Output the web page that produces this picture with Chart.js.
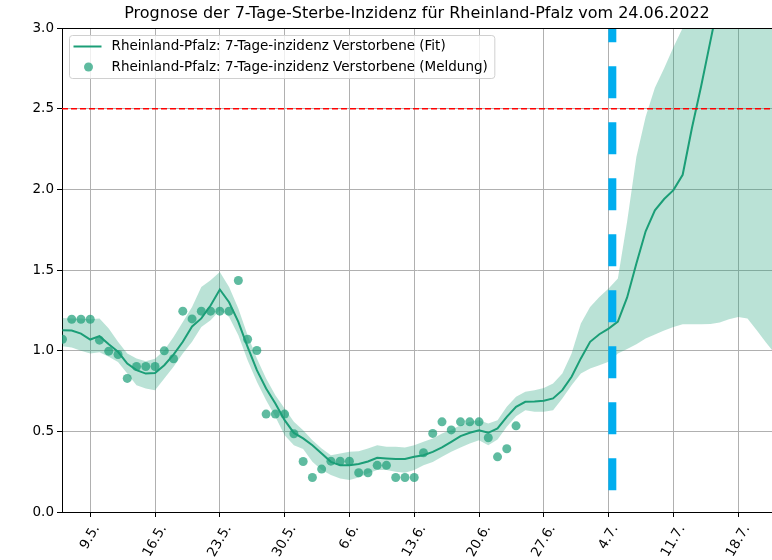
<!DOCTYPE html>
<html><head><meta charset="utf-8">
<script src="https://cdn.jsdelivr.net/npm/chart.js@4/dist/chart.umd.min.js"></script>
<style>html,body{margin:0;padding:0;background:#fff;overflow:hidden;}canvas{display:block;}</style>
</head><body>
<canvas id="c" width="772" height="560"></canvas>
<script>
const titleText = 'Prognose der 7-Tage-Sterbe-Inzidenz für Rheinland-Pfalz vom 24.06.2022';
const fitLabel = 'Rheinland-Pfalz: 7-Tage-inzidenz Verstorbene (Fit)';
const meldungLabel = 'Rheinland-Pfalz: 7-Tage-inzidenz Verstorbene (Meldung)';

// x = days since 6.5.2022
const tickDays = [3, 10, 17, 24, 31, 38, 45, 52, 59, 66, 73];
const tickLabels = ['9.5.', '16.5.', '23.5.', '30.5.', '6.6.', '13.6.', '20.6.', '27.6.', '4.7.', '11.7.', '18.7.'];

// reported 7-day death incidence, daily from 6.5. to 24.6.
const meldung = [
  1.071, 1.195, 1.195, 1.195, 1.065, 0.997, 0.976, 0.828, 0.902, 0.902,
  0.902, 0.999, 0.950, 1.245, 1.197, 1.245, 1.245, 1.245, 1.245, 1.435,
  1.071, 1.001, 0.607, 0.607, 0.607, 0.485, 0.313, 0.214, 0.266, 0.315,
  0.315, 0.315, 0.243, 0.243, 0.289, 0.289, 0.214, 0.214, 0.214, 0.367,
  0.487, 0.559, 0.509, 0.559, 0.559, 0.559, 0.460, 0.342, 0.392, 0.534
];

// fit, daily from 6.5.
const fit = [
  1.127, 1.125, 1.106, 1.069, 1.090, 1.040, 0.993, 0.920, 0.879, 0.858,
  0.862, 0.910, 0.975, 1.055, 1.150, 1.200, 1.280, 1.379, 1.300, 1.178,
  1.024, 0.879, 0.766, 0.673, 0.569, 0.490, 0.456, 0.414, 0.363, 0.311,
  0.290, 0.290, 0.297, 0.313, 0.336, 0.332, 0.328, 0.328, 0.342, 0.352,
  0.373, 0.400, 0.435, 0.470, 0.491, 0.507, 0.491, 0.518, 0.590, 0.652,
  0.683, 0.685, 0.689, 0.704, 0.755, 0.838, 0.952, 1.055, 1.102, 1.137,
  1.180, 1.330, 1.540, 1.740, 1.870, 1.940, 1.995, 2.090, 2.380, 2.640,
  2.920, 3.200, 3.450, 3.700, 3.950, 4.200, 4.450, 4.700
];
const fitUpper = [
  1.203, 1.200, 1.200, 1.195, 1.200, 1.138, 1.055, 0.983, 0.952, 0.935,
  0.950, 1.003, 1.085, 1.178, 1.271, 1.395, 1.437, 1.488, 1.395, 1.261,
  1.096, 0.952, 0.828, 0.724, 0.642, 0.559, 0.507, 0.445, 0.394, 0.352,
  0.363, 0.373, 0.377, 0.394, 0.414, 0.404, 0.404, 0.400, 0.414, 0.435,
  0.455, 0.487, 0.510, 0.538, 0.559, 0.569, 0.549, 0.569, 0.652, 0.714,
  0.745, 0.755, 0.768, 0.797, 0.859, 0.983, 1.168, 1.271, 1.333, 1.385,
  1.447, 1.800, 2.200, 2.450, 2.630, 2.750, 2.880, 3.000, 3.150, 3.300,
  3.450, 3.600, 3.750, 3.900, 4.050, 4.200, 4.350, 4.500
];
const fitLower = [
  1.028, 1.020, 1.000, 0.983, 0.990, 0.962, 0.930, 0.859, 0.786, 0.766,
  0.755, 0.828, 0.900, 0.983, 1.055, 1.147, 1.189, 1.251, 1.209, 1.096,
  0.941, 0.807, 0.693, 0.590, 0.476, 0.414, 0.390, 0.311, 0.260, 0.229,
  0.208, 0.198, 0.214, 0.239, 0.260, 0.260, 0.249, 0.243, 0.260, 0.290,
  0.310, 0.342, 0.373, 0.400, 0.425, 0.445, 0.414, 0.450, 0.528, 0.594,
  0.631, 0.621, 0.621, 0.631, 0.704, 0.786, 0.859, 0.890, 0.910, 0.931,
  0.983, 1.010, 1.040, 1.075, 1.100, 1.125, 1.147, 1.164, 1.164, 1.164,
  1.166, 1.175, 1.195, 1.209, 1.200, 1.127, 1.050, 0.980
];

const forecastDay = 59.4;
const forecastLine = [0.135, 3.0];
const threshold = 2.5;
const xRange = [-0.05, 76.65];
const yRange = [0, 3];

const GREEN = '#1b9e77';
const toXY = arr => arr.map((v, i) => ({x: i, y: v}));
const FONT = 'DejaVu Sans';
const TICK_SIZE = 13.5;

// matplotlib-like rotated x labels (centered under tick), top frame, legend inside axes
const decor = {
  id: 'decor',
  afterDraw(chart) {
    const ctx = chart.ctx, a = chart.chartArea, xs = chart.scales.x;
    ctx.save();
    // x tick labels, rotation 60°, bbox centered on tick
    ctx.font = TICK_SIZE + 'px "' + FONT + '"';
    ctx.fillStyle = '#000';
    ctx.textAlign = 'center'; ctx.textBaseline = 'middle';
    const ang = 60 * Math.PI / 180, h = TICK_SIZE * 1.17;
    tickDays.forEach((d, i) => {
      const w = ctx.measureText(tickLabels[i]).width;
      const H = w * Math.sin(ang) + h * Math.cos(ang);
      const px = xs.getPixelForValue(d);
      ctx.save();
      ctx.translate(px, a.bottom + 10 + H / 2);
      ctx.rotate(-ang);
      ctx.fillText(tickLabels[i], 0, 0);
      ctx.restore();
    });
    // top spine
    ctx.strokeStyle = '#000'; ctx.lineWidth = 1;
    ctx.beginPath(); ctx.moveTo(a.left, a.top + 0.5); ctx.lineTo(a.right, a.top + 0.5); ctx.stroke();
    // legend
    ctx.font = '13.5px "' + FONT + '"';
    const tw = Math.max(ctx.measureText(fitLabel).width, ctx.measureText(meldungLabel).width);
    const bx = a.left + 7.5, by = a.top + 7.5, bw = 42 + tw + 7, bh = 43;
    const r = 3;
    ctx.beginPath();
    ctx.moveTo(bx + r, by); ctx.lineTo(bx + bw - r, by); ctx.quadraticCurveTo(bx + bw, by, bx + bw, by + r);
    ctx.lineTo(bx + bw, by + bh - r); ctx.quadraticCurveTo(bx + bw, by + bh, bx + bw - r, by + bh);
    ctx.lineTo(bx + r, by + bh); ctx.quadraticCurveTo(bx, by + bh, bx, by + bh - r);
    ctx.lineTo(bx, by + r); ctx.quadraticCurveTo(bx, by, bx + r, by);
    ctx.closePath();
    ctx.fillStyle = 'rgba(255,255,255,0.8)'; ctx.fill();
    ctx.strokeStyle = '#d0d0d0'; ctx.stroke();
    const y1 = by + 11, y2 = by + 31.5;
    ctx.strokeStyle = GREEN; ctx.lineWidth = 2;
    ctx.beginPath(); ctx.moveTo(bx + 4, y1); ctx.lineTo(bx + 32, y1); ctx.stroke();
    ctx.fillStyle = 'rgba(27,158,119,0.7)';
    ctx.beginPath(); ctx.arc(bx + 19, y2, 4.5, 0, Math.PI * 2); ctx.fill();
    ctx.fillStyle = '#000'; ctx.textBaseline = 'middle'; ctx.textAlign = 'left';
    ctx.fillText(fitLabel, bx + 42, y1);
    ctx.fillText(meldungLabel, bx + 42, y2);
    ctx.restore();
  }
};

new Chart(document.getElementById('c'), {
  type: 'line',
  data: {
    datasets: [
      {data: toXY(fitLower), borderWidth: 0, pointRadius: 0, fill: false, order: 7, clip: 0},
      {data: toXY(fitUpper), borderWidth: 0, pointRadius: 0, fill: '-1', backgroundColor: 'rgba(27,158,119,0.3)', order: 6, clip: 0},
      {label: fitLabel, data: toXY(fit), borderColor: GREEN, borderWidth: 2, pointRadius: 0, fill: false, order: 5, clip: 0},
      {label: meldungLabel, data: toXY(meldung), showLine: false, pointRadius: 4.5, pointBorderWidth: 0, pointBackgroundColor: 'rgba(27,158,119,0.7)', order: 4, clip: 0},
      {data: [{x: xRange[0], y: threshold}, {x: xRange[1], y: threshold}], borderColor: '#ff0000', borderWidth: 1.5, borderDash: [6, 3], pointRadius: 0, fill: false, order: 2, clip: 0},
      {data: forecastLine.map(v => ({x: forecastDay, y: v})), borderColor: '#00aeef', borderWidth: 8, borderDash: [32, 24], borderCapStyle: 'butt', pointRadius: 0, fill: false, order: 1, clip: 0}
    ]
  },
  options: {
    responsive: false, animation: false, devicePixelRatio: 1,
    layout: {padding: 0, autoPadding: false},
    plugins: {
      legend: {display: false}, tooltip: {enabled: false},
      title: {display: true, text: titleText, fullSize: false, color: '#000',
        font: {family: FONT, size: 16, weight: 'normal'}, padding: {top: 4, bottom: 4.8}}
    },
    scales: {
      x: {
        type: 'linear', min: xRange[0], max: xRange[1],
        afterBuildTicks: s => { s.ticks = tickDays.map(v => ({value: v})); },
        afterFit: s => { s.height = 48; s.paddingRight = 0; s.paddingLeft = 0; },
        ticks: {display: false, autoSkip: false},
        grid: {color: '#b0b0b0', lineWidth: 1, drawTicks: true, tickLength: 5, tickColor: '#000'},
        border: {color: '#000', width: 1}
      },
      y: {
        min: yRange[0], max: yRange[1],
        afterFit: s => { s.width = 62; s.paddingTop = 0; s.paddingBottom = 0; },
        ticks: {stepSize: 0.5, callback: v => v.toFixed(1), color: '#000', font: {family: FONT, size: TICK_SIZE}, padding: 3},
        grid: {color: '#b0b0b0', lineWidth: 1, tickLength: 5, tickColor: '#000'},
        border: {color: '#000', width: 1}
      }
    }
  },
  plugins: [decor]
});
</script>
</body></html>
